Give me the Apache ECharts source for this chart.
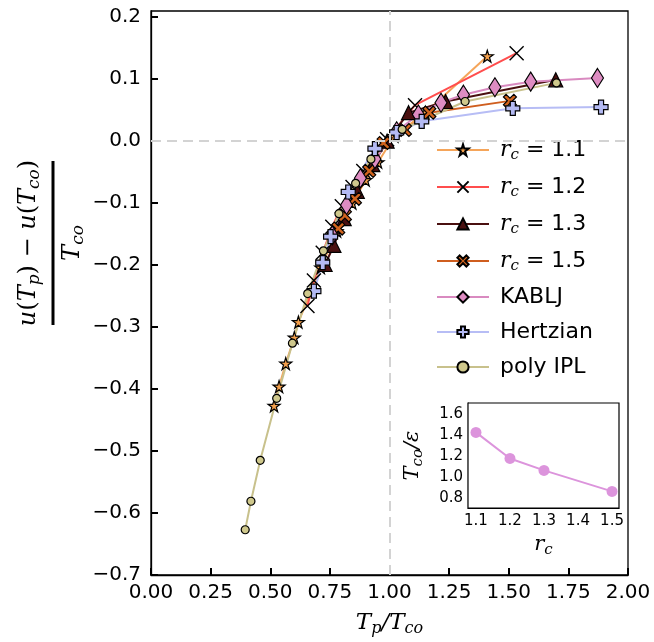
<!DOCTYPE html>
<html><head><meta charset="utf-8">
<script src="https://cdn.jsdelivr.net/npm/echarts@6/dist/echarts.min.js"></script>
<style>html,body{margin:0;padding:0;background:#fff}#c{width:654px;height:642px}</style>
</head><body><div id="c"></div>
<script>
// ---- data ----
const rc11X = [0.516,0.537,0.565,0.601,0.618,0.712,0.78,0.844,0.90,0.952,1.02,1.15,1.41];
const rc11Y = [-0.427,-0.396,-0.359,-0.317,-0.292,-0.204,-0.145,-0.100,-0.063,-0.034,0.008,0.046,0.137];
const rc12X = [0.656,0.683,0.72,0.76,0.80,0.845,0.89,0.94,0.99,1.107,1.533];
const rc12Y = [-0.266,-0.225,-0.18,-0.138,-0.105,-0.074,-0.048,-0.022,0.003,0.058,0.142];
const rc13X = [0.73,0.767,0.81,0.865,0.93,0.99,1.08,1.235,1.697];
const rc13Y = [-0.199,-0.168,-0.125,-0.081,-0.038,0.0,0.046,0.064,0.099];
const rc15X = [0.785,0.813,0.855,0.915,0.975,1.065,1.167,1.505];
const rc15Y = [-0.141,-0.120,-0.093,-0.048,-0.003,0.018,0.046,0.065];
const kabljX = [0.76,0.82,0.878,0.939,1.03,1.121,1.216,1.31,1.442,1.592,1.872];
const kabljY = [-0.152,-0.103,-0.06,-0.029,0.016,0.043,0.062,0.075,0.087,0.096,0.102];
const hertzX = [0.683,0.72,0.753,0.827,0.939,1.03,1.135,1.517,1.887];
const hertzY = [-0.242,-0.196,-0.154,-0.082,-0.012,0.014,0.032,0.053,0.055];
const ipolyX = [0.395,0.419,0.458,0.527,0.593,0.657,0.723,0.788,0.858,0.922,1.053,1.317,1.70];
const ipolyY = [-0.627,-0.581,-0.515,-0.415,-0.326,-0.246,-0.177,-0.117,-0.068,-0.029,0.019,0.064,0.094];
const insetRc = [1.1,1.2,1.3,1.5];
const insetTco = [1.425,1.177,1.063,0.863];
const xTicks = [0,0.25,0.5,0.75,1.0,1.25,1.5,1.75,2.0];
const yTicks = [-0.7,-0.6,-0.5,-0.4,-0.3,-0.2,-0.1,0.0,0.1,0.2];
const insetXTicks = [1.1,1.2,1.3,1.4,1.5];
const insetYTicks = [0.8,1.0,1.2,1.4,1.6];

const zip = (a,b) => a.map((v,i)=>[v,b[i]]);
const minus = s => s.replace('-', '\u2212');

const STAR = 'path://M50,2 L61,37 L98,37 L68,59 L79,95 L50,73 L21,95 L32,59 L2,37 L39,37 Z';
const THINX = 'path://M0,0 L10,10 M10,0 L0,10';
const FATX = 'path://M0,2 L2,0 L5,3 L8,0 L10,2 L7,5 L10,8 L8,10 L5,7 L2,10 L0,8 L3,5 Z';
const PLUS = 'path://M3.2,0 L6.8,0 L6.8,3.2 L10,3.2 L10,6.8 L6.8,6.8 L6.8,10 L3.2,10 L3.2,6.8 L0,6.8 L0,3.2 L3.2,3.2 Z';

function mk(name, xs, ys, lineColor, symbol, size, fill, extra) {
  return Object.assign({
    name, type:'line', xAxisIndex:0, yAxisIndex:0,
    data: zip(xs, ys), symbol, symbolSize:size, showSymbol:true,
    lineStyle:{color:lineColor, width:2},
    itemStyle:{color:fill, borderColor:'#000', borderWidth:1.2},
    emphasis:{disabled:true}, animation:false
  }, extra||{});
}

const serif = 'DejaVu Serif';
const richMath = {
  i:{fontFamily:serif, fontStyle:'italic', fontSize:22, color:'#000', lineHeight:24},
  s:{fontFamily:serif, fontStyle:'italic', fontSize:15, color:'#000', padding:[11,0,0,0], lineHeight:24},
  e:{fontFamily:serif, fontSize:22, color:'#000', lineHeight:24},
  n:{fontFamily:'DejaVu Sans', fontSize:22, color:'#000', lineHeight:24},
  t:{fontFamily:'DejaVu Sans', fontSize:22, color:'#000', lineHeight:24}
};
const legendNames = {
  'rc11':'{i|r}{s|c}{e| = }{n|1.1}',
  'rc12':'{i|r}{s|c}{e| = }{n|1.2}',
  'rc13':'{i|r}{s|c}{e| = }{n|1.3}',
  'rc15':'{i|r}{s|c}{e| = }{n|1.5}',
  'KABLJ':'{t|KABLJ}','Hertzian':'{t|Hertzian}','poly IPL':'{t|poly IPL}'
};

const chart = echarts.init(document.getElementById('c'), null, {renderer:'canvas'});
const option = {
  animation:false,
  backgroundColor:'#fff',
  grid:[
    {left:151, right:26, top:11, bottom:62, show:true, borderColor:'#000', borderWidth:1.3, backgroundColor:'transparent'},
    {left:468, top:403, width:151, height:105, show:true, borderColor:'#000', borderWidth:1.2, backgroundColor:'#fff', z:10}
  ],
  xAxis:[
    {type:'value', gridIndex:0, min:0, max:2, interval:0.25,
     axisLine:{show:true, onZero:false, lineStyle:{color:'#000', width:1.3}},
     axisTick:{show:true, inside:true, length:7, lineStyle:{color:'#000', width:2}, customValues:xTicks},
     axisLabel:{color:'#000', fontFamily:'DejaVu Sans', fontSize:20, margin:8, customValues:xTicks, formatter:v=>v.toFixed(2)},
     splitLine:{show:false},
     name:'{i|T}{s|p}{e|/}{i|T}{s|co}', nameLocation:'middle', nameGap:34,
     nameTextStyle:{rich:{
       i:{fontFamily:serif, fontStyle:'italic', fontSize:23, color:'#000'},
       s:{fontFamily:serif, fontStyle:'italic', fontSize:16, color:'#000', padding:[12,0,0,0]},
       e:{fontFamily:serif, fontStyle:'italic', fontSize:23, color:'#000'}}}},
    {type:'value', gridIndex:1, min:1.0766, max:1.5205,
     axisLine:{show:true, onZero:false, lineStyle:{color:'#000', width:1.2}},
     axisTick:{show:true, inside:true, length:5, lineStyle:{color:'#000', width:1.5}, customValues:insetXTicks},
     axisLabel:{color:'#000', fontFamily:'DejaVu Sans', fontSize:15, margin:6, customValues:insetXTicks, formatter:v=>v.toFixed(1)},
     splitLine:{show:false},
     name:'{i|r}{s|c}', nameLocation:'middle', nameGap:24,
     nameTextStyle:{rich:{
       i:{fontFamily:serif, fontStyle:'italic', fontSize:21, color:'#000'},
       s:{fontFamily:serif, fontStyle:'italic', fontSize:15, color:'#000', padding:[11,0,0,0]}}}}
  ],
  yAxis:[
    {type:'value', gridIndex:0, min:-0.7, max:0.21, interval:0.1,
     axisLine:{show:true, onZero:false, lineStyle:{color:'#000', width:1.3}},
     axisTick:{show:true, inside:true, length:7, lineStyle:{color:'#000', width:2}, customValues:yTicks},
     axisLabel:{color:'#000', fontFamily:'DejaVu Sans', fontSize:20, margin:10, customValues:yTicks, formatter:v=>minus(v.toFixed(1))},
     splitLine:{show:false}},
    {type:'value', gridIndex:1, min:0.705, max:1.705,
     axisLine:{show:true, onZero:false, lineStyle:{color:'#000', width:1.2}},
     axisTick:{show:true, inside:true, length:5, lineStyle:{color:'#000', width:1.5}, customValues:insetYTicks},
     axisLabel:{color:'#000', fontFamily:'DejaVu Sans', fontSize:15, margin:5, customValues:insetYTicks, formatter:v=>v.toFixed(1)},
     splitLine:{show:false},
     name:'{i|T}{s|co}{e|/\u03b5}', nameLocation:'middle', nameGap:42, nameRotate:90,
     nameTextStyle:{rich:{
       i:{fontFamily:serif, fontStyle:'italic', fontSize:21, color:'#000'},
       s:{fontFamily:serif, fontStyle:'italic', fontSize:15, color:'#000', padding:[11,0,0,0]},
       e:{fontFamily:serif, fontStyle:'italic', fontSize:21, color:'#000'}}}}
  ],
  legend:{
    data:['rc11','rc12','rc13','rc15','KABLJ','Hertzian','poly IPL'],
    orient:'vertical', left:431, top:132, itemWidth:52, itemHeight:14, itemGap:11,
    formatter:n=>legendNames[n],
    textStyle:{rich:richMath, padding:[0,0,0,6], lineHeight:24},
    selectedMode:false
  },
  series:[
    {name:'guides', type:'line', data:[], z:1, silent:true, xAxisIndex:0, yAxisIndex:0,
     markLine:{silent:true, symbol:'none', label:{show:false}, animation:false,
       lineStyle:{color:'#d3d3d3', type:[10,6], width:2},
       data:[{xAxis:1.0},{yAxis:0.0}]}},
    mk('rc11', rc11X, rc11Y, '#f5a55a', STAR, 12, '#f4a04c'),
    mk('rc12', rc12X, rc12Y, '#ff4d4d', THINX, 14, '#000', {itemStyle:{color:'#000', borderColor:'#000', borderWidth:1.4}}),
    mk('rc13', rc13X, rc13Y, '#4a1010', 'triangle', 14, '#4a1010'),
    mk('rc15', rc15X, rc15Y, '#cf5e1f', FATX, 13, '#d2641e'),
    mk('KABLJ', kabljX, kabljY, '#d98ac0', 'diamond', [12,19], '#de8cc2'),
    mk('Hertzian', hertzX, hertzY, '#b7bdf5', PLUS, 14, '#b4baf3'),
    mk('poly IPL', ipolyX, ipolyY, '#c8c18c', 'circle', 8, '#cfc88c'),
    {name:'inset', type:'line', xAxisIndex:1, yAxisIndex:1, z:12,
     data:zip(insetRc, insetTco), symbol:'circle', symbolSize:11,
     lineStyle:{color:'#dc94dc', width:2}, itemStyle:{color:'#dc94dc'}, animation:false}
  ],
  graphic:[
    {type:'group', x:53, y:243, rotation:Math.PI/2, children:[
      {type:'text', x:0, y:-24, style:{
        text:'{i|u}{r|(}{i|T}{s|p}{r|) \u2212 }{i|u}{r|(}{i|T}{s|co}{r|)}',
        align:'center', verticalAlign:'middle',
        rich:{
          i:{fontFamily:serif, fontStyle:'italic', fontSize:24, fill:'#000'},
          r:{fontFamily:serif, fontSize:24, fill:'#000'},
          s:{fontFamily:serif, fontStyle:'italic', fontSize:17, fill:'#000', padding:[12,0,0,0]}}}},
      {type:'rect', shape:{x:-82, y:-1.5, width:164, height:3}, style:{fill:'#000'}},
      {type:'text', x:0, y:20, style:{
        text:'{i|T}{s|co}', align:'center', verticalAlign:'middle',
        rich:{
          i:{fontFamily:serif, fontStyle:'italic', fontSize:24, fill:'#000'},
          s:{fontFamily:serif, fontStyle:'italic', fontSize:17, fill:'#000', padding:[12,0,0,0]}}}}
    ]}
  ]
};
chart.setOption(option);
</script>
</body></html>
